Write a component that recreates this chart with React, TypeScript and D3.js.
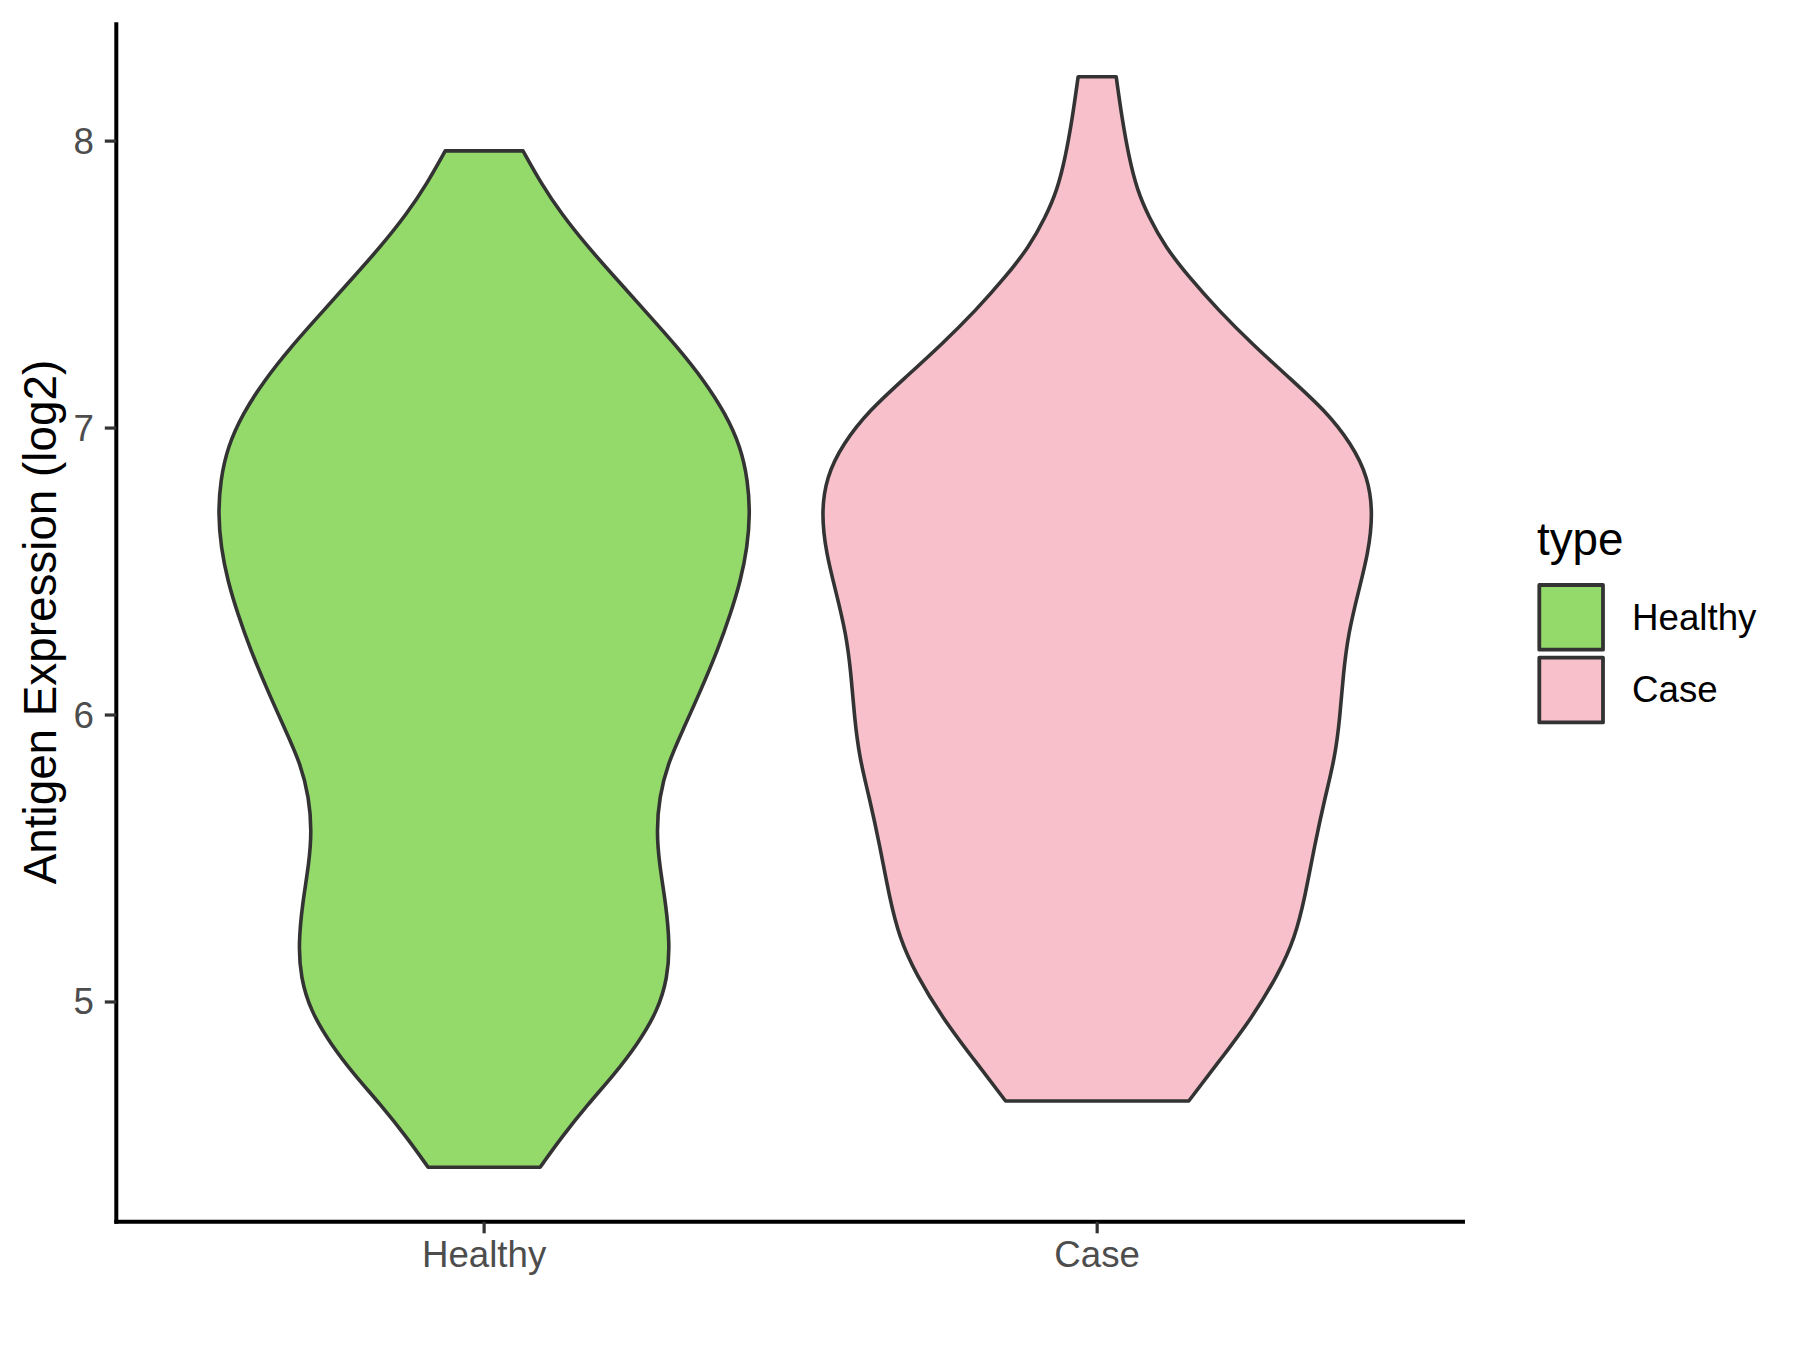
import React from "react";
import * as d3 from "d3";

// ---- data ----
const categories = ["Healthy", "Case"];
const fillColors = ["#93DA6B", "#F7C0CB"];
const yTicks = [5, 6, 7, 8];
const yTitle = "Antigen Expression (log2)";
const legendTitle = "type";

// violin outlines: expression value (top -> bottom) and relative density
const healthyValues = [7.966, 7.852, 7.748, 7.631, 7.515, 7.399, 7.282, 7.166, 7.05, 6.934, 6.817, 6.701, 6.585, 6.469, 6.352, 6.23, 6.085, 5.945, 5.829, 5.713, 5.597, 5.48, 5.341, 5.201, 5.085, 4.969, 4.853, 4.748, 4.643, 4.527, 4.424];
const healthyDensity = [0.141, 0.207, 0.279, 0.376, 0.484, 0.592, 0.701, 0.797, 0.875, 0.93, 0.956, 0.964, 0.954, 0.93, 0.893, 0.848, 0.785, 0.719, 0.665, 0.635, 0.625, 0.635, 0.659, 0.673, 0.665, 0.629, 0.556, 0.472, 0.376, 0.279, 0.203];
const caseValues = [8.224, 8.073, 7.945, 7.829, 7.736, 7.631, 7.527, 7.41, 7.294, 7.178, 7.062, 6.945, 6.829, 6.701, 6.562, 6.434, 6.283, 6.143, 5.992, 5.852, 5.713, 5.55, 5.364, 5.224, 5.097, 4.945, 4.806, 4.655];
const caseDensity = [0.069, 0.091, 0.115, 0.145, 0.187, 0.247, 0.332, 0.44, 0.561, 0.693, 0.826, 0.922, 0.982, 1.0, 0.982, 0.948, 0.91, 0.892, 0.88, 0.862, 0.826, 0.789, 0.753, 0.717, 0.657, 0.561, 0.452, 0.332];

const seriesValues = [healthyValues, caseValues];
const seriesDensity = [healthyDensity, caseDensity];

const FONT = "'Liberation Sans', Arial, Helvetica, sans-serif";

export default function App() {
  const W = 1800;
  const H = 1350;
  const panel = { left: 116.3, right: 1465, top: 22.3, bottom: 1221.8 };

  const allVals = seriesValues.flat();
  const lo = d3.min(allVals) as number;
  const hi = d3.max(allVals) as number;
  const pad = (hi - lo) * 0.05;

  const y = d3.scaleLinear().domain([lo - pad, hi + pad]).range([panel.bottom, panel.top]);
  const x = d3.scalePoint<string>().domain(categories).range([panel.left, panel.right]).padding(0.6);
  const step = x.step();
  const maxD = d3.max(seriesDensity.flat()) as number;
  const w = d3.scaleLinear().domain([0, maxD]).range([0, 0.45 * step]);

  const violins = categories.map((c, i) => {
    const cx = x(c) as number;
    const pts = seriesValues[i].map((v, j) => ({ v, d: seriesDensity[i][j] }));
    const area = d3
      .area<{ v: number; d: number }>()
      .y((p) => y(p.v))
      .x0((p) => cx - w(p.d))
      .x1((p) => cx + w(p.d))
      .curve(d3.curveBasis);
    return { c, path: area(pts) as string, fill: fillColors[i] };
  });

  const tickColor = "#333333";
  const labelColor = "#4D4D4D";

  return (
    <svg
      width={W}
      height={H}
      viewBox={`0 0 ${W} ${H}`}
      style={{ position: "absolute", left: 0, top: 0, background: "#fff" }}
      fontFamily={FONT}
    >
      <rect x={0} y={0} width={W} height={H} fill="#ffffff" />
      {violins.map((vl) => (
        <path key={vl.c} d={vl.path} fill={vl.fill} stroke="#333333" strokeWidth={3.6} strokeLinejoin="round" />
      ))}

      {/* axes */}
      <line x1={panel.left} x2={panel.left} y1={panel.top} y2={panel.bottom + 2} stroke="#000" strokeWidth={4} />
      <line x1={panel.left - 2} x2={panel.right} y1={panel.bottom} y2={panel.bottom} stroke="#000" strokeWidth={4} />

      {yTicks.map((t) => (
        <g key={t}>
          <line x1={panel.left - 11.5} x2={panel.left} y1={y(t)} y2={y(t)} stroke={tickColor} strokeWidth={3.2} />
          <text x={94} y={y(t)} textAnchor="end" dominantBaseline="central" fontSize={36.7} fill={labelColor}>
            {t}
          </text>
        </g>
      ))}
      {categories.map((c) => (
        <g key={c}>
          <line x1={x(c)} x2={x(c)} y1={panel.bottom} y2={panel.bottom + 11.5} stroke={tickColor} strokeWidth={3.2} />
          <text x={x(c)} y={1267} textAnchor="middle" fontSize={36.7} fill={labelColor}>
            {c}
          </text>
        </g>
      ))}

      <text
        transform={`translate(56, ${(panel.top + panel.bottom) / 2}) rotate(-90)`}
        textAnchor="middle"
        fontSize={45.8}
        fill="#000"
      >
        {yTitle}
      </text>

      {/* legend */}
      <text x={1537} y={555} fontSize={45.8} fill="#000">
        {legendTitle}
      </text>
      {categories.map((c, i) => (
        <g key={c}>
          <rect
            x={1539.3}
            y={585 + i * 72.7}
            width={63.7}
            height={64.7}
            fill={fillColors[i]}
            stroke="#333333"
            strokeWidth={3.8}
            strokeLinejoin="round"
          />
          <text x={1632} y={630 + i * 71.7} fontSize={36.7} fill="#000">
            {c}
          </text>
        </g>
      ))}
    </svg>
  );
}
